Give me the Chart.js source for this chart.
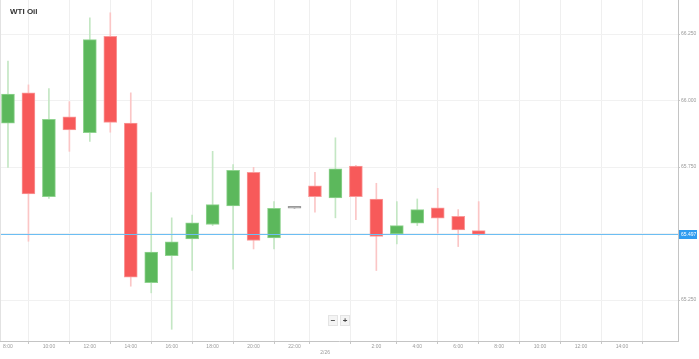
<!DOCTYPE html>
<html>
<head>
<meta charset="utf-8">
<script src="https://cdn.jsdelivr.net/npm/chart.js@4.4.1/dist/chart.umd.min.js"></script>
<style>
  html, body { margin: 0; padding: 0; background: #fff; }
  .wrap { position: relative; width: 699px; height: 359px; font-family: "Liberation Sans", Arial, sans-serif; }
  canvas { display: block; }
  .title { position: absolute; left: 10px; top: 7px; font-size: 8px; font-weight: bold; color: #333; }
  .zoom { position: absolute; left: 328px; top: 315px; display: flex; gap: 2px; }
  .zoom span { width: 8px; height: 9px; line-height: 9px; text-align: center; font-size: 8px; font-weight: bold;
    color: #444; background: #f4f4f4; border: 1px solid #e4e4e4; }
</style>
</head>
<body>
<div class="wrap">
  <canvas id="chart" width="699" height="359"></canvas>
  <div class="title">WTI Oil</div>
  <div class="zoom"><span>−</span><span>+</span></div>
</div>
<script>
  // hourly candles, 8:00 on 2/25 through 7:00 on 2/26 (hours past midnight 2/25)
  const hours = [8, 9, 10, 11, 12, 13, 14, 15, 16, 17, 18, 19, 20, 21, 22, 23, 24, 25, 26, 27, 28, 29, 30, 31];
  const opens = [65.915, 66.029, 65.639, 65.939, 65.879, 66.241, 65.915, 65.315, 65.417, 65.480, 65.534, 65.604,
    65.730, 65.484, 65.595, 65.679, 65.634, 65.754, 65.630, 65.499, 65.539, 65.597, 65.565, 65.511];
  const highs = [66.148, 66.059, 66.045, 65.996, 66.311, 66.330, 66.029, 65.654, 65.559, 65.569, 65.809, 65.759,
    65.749, 65.620, 65.595, 65.730, 65.860, 65.756, 65.689, 65.620, 65.630, 65.670, 65.590, 65.620];
  const lows = [65.749, 65.471, 65.632, 65.809, 65.846, 65.881, 65.302, 65.277, 65.140, 65.361, 65.530, 65.366,
    65.442, 65.442, 65.595, 65.580, 65.559, 65.552, 65.361, 65.461, 65.530, 65.501, 65.451, 65.492];
  const closes = [66.024, 65.649, 65.929, 65.890, 66.229, 65.918, 65.336, 65.430, 65.469, 65.540, 65.609, 65.738,
    65.474, 65.595, 65.595, 65.639, 65.743, 65.639, 65.489, 65.530, 65.590, 65.558, 65.514, 65.497];
  const currentPrice = 65.497;

  const xTickValues = [8, 10, 12, 14, 16, 18, 20, 22, 23.5, 26, 28, 30, 32, 34, 36, 38];
  const xTickLabels = ["8:00", "10:00", "12:00", "14:00", "16:00", "18:00", "20:00", "22:00", "2/26",
    "2:00", "4:00", "6:00", "8:00", "10:00", "12:00", "14:00"];
  const yTickValues = [65.25, 65.5, 65.75, 66.0, 66.25];

  const UP = "#5cb85c", UP_EDGE = "#8fd38f", UP_WICK = "#c4e7c4";
  const DOWN = "#f75a5a", DOWN_EDGE = "#f99a9a", DOWN_WICK = "#fbc6c6";
  const FLAT = "#9a9a9a";

  const dir = hours.map((h, i) => Math.sign(closes[i] - opens[i]));
  const pick = (up, down) => dir.map((d) => (d > 0 ? up : d < 0 ? down : FLAT));

  const priceLine = {
    id: "priceLine",
    afterDatasetsDraw(chart) {
      const { ctx, chartArea, scales } = chart;
      const y = Math.round(scales.y.getPixelForValue(currentPrice)) + 0.5;
      ctx.save();
      ctx.strokeStyle = "#6cbef3";
      ctx.lineWidth = 1;
      ctx.beginPath();
      ctx.moveTo(chartArea.left, y);
      ctx.lineTo(chartArea.right, y);
      ctx.stroke();
      ctx.fillStyle = "#2f9cf0";
      ctx.fillRect(chartArea.right + 1, y - 4.5, 18, 9);
      ctx.fillStyle = "#fff";
      ctx.font = "5px 'Liberation Sans', Arial, sans-serif";
      ctx.textBaseline = "middle";
      ctx.fillText(currentPrice.toFixed(3), chartArea.right + 3, y);
      ctx.strokeStyle = "#e2e2e2";
      ctx.beginPath();
      ctx.moveTo(0.5, 0);
      ctx.lineTo(0.5, chartArea.bottom);
      ctx.stroke();
      ctx.restore();
    }
  };

  new Chart(document.getElementById("chart"), {
    type: "bar",
    data: {
      datasets: [
        {
          label: "body",
          data: hours.map((h, i) => ({ x: h, y: [opens[i], closes[i]] })),
          backgroundColor: pick(UP, DOWN),
          borderColor: pick(UP_EDGE, DOWN_EDGE),
          borderWidth: 1,
          borderSkipped: false,
          barThickness: 13,
          minBarLength: 2,
          grouped: false,
          order: 1
        },
        {
          label: "wick",
          data: hours.map((h, i) => ({ x: h, y: [lows[i], highs[i]] })),
          backgroundColor: pick(UP_WICK, DOWN_WICK),
          borderWidth: 0,
          barThickness: 1,
          grouped: false,
          order: 2
        }
      ]
    },
    options: {
      responsive: false,
      animation: false,
      layout: { padding: 0 },
      plugins: { legend: { display: false }, tooltip: { enabled: false } },
      scales: {
        x: {
          type: "linear",
          min: 7.61,
          max: 40.74,
          offset: false,
          afterBuildTicks: (scale) => { scale.ticks = xTickValues.map((v) => ({ value: v })); },
          afterFit: (scale) => { scale.height = 18; },
          grid: { color: "#efefef", tickLength: 3, tickColor: "#c8c8c8" },
          border: { color: "#c4c4c4" },
          ticks: {
            autoSkip: false,
            maxRotation: 0,
            padding: 0,
            color: "#9a9a9a",
            font: { size: 5, family: "'Liberation Sans', Arial, sans-serif" },
            callback: (value) => {
              const i = xTickValues.indexOf(value);
              if (i < 0) return "";
              return value === 23.5 ? ["", xTickLabels[i]] : xTickLabels[i];
            }
          }
        },
        y: {
          position: "right",
          min: 65.096,
          max: 66.378,
          afterBuildTicks: (scale) => { scale.ticks = yTickValues.map((v) => ({ value: v })); },
          afterFit: (scale) => { scale.width = 21; scale.paddingTop = 0; scale.paddingBottom = 0; },
          grid: { color: "#f1f1f1", tickLength: 2, tickColor: "#c8c8c8" },
          border: { color: "#c4c4c4" },
          ticks: {
            padding: 1,
            color: "#9a9a9a",
            font: { size: 5, family: "'Liberation Sans', Arial, sans-serif" },
            callback: (value) => Number(value).toFixed(3)
          }
        }
      }
    },
    plugins: [priceLine]
  });
</script>
</body>
</html>
